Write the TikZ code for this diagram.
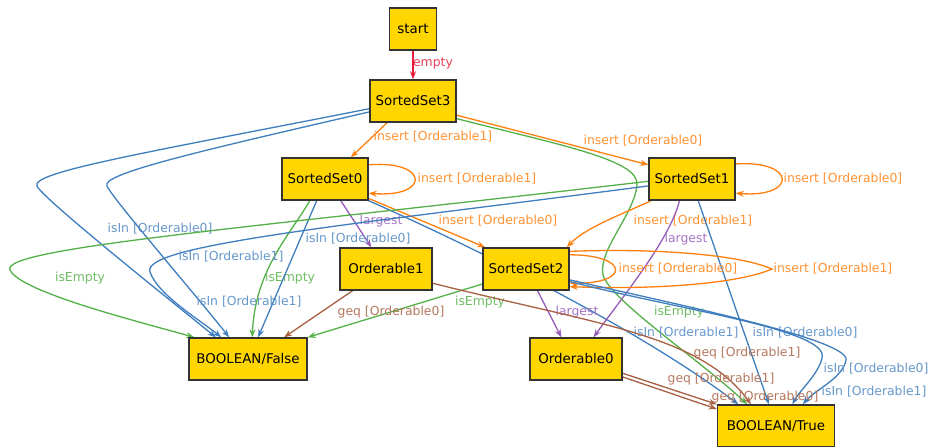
\documentclass[tikz,border=0pt]{standalone}
\usepackage{fontspec}
\setmainfont{DejaVu Sans}
\usetikzlibrary{arrows.meta,backgrounds}

\definecolor{statefill}{RGB}{255,214,0}
\definecolor{orangeline}{RGB}{255,127,14}
\definecolor{blueline}{RGB}{62,126,190}
\definecolor{greenline}{RGB}{84,176,72}
\definecolor{purpleline}{RGB}{150,90,185}
\definecolor{brownline}{RGB}{168,96,66}
\definecolor{redline}{RGB}{232,30,60}

\begin{document}
\begin{tikzpicture}[x=1pt, y=-1pt,
  state/.style={draw=black!80, fill=statefill, line width=1.4pt, minimum height=42pt,
    inner sep=0pt, font=\fontsize{13.4}{15}\selectfont},
  trans/.style={line width=1.3pt, -{Stealth[length=8pt, width=6pt]},
    font=\fontsize{12.4}{14}\selectfont},
  emptyedge/.style={trans, draw=redline, text=redline!85!white},
  insertedge/.style={trans, draw=orangeline, text=orangeline!85!white},
  isinedge/.style={trans, draw=blueline, text=blueline!80!white},
  isemptyedge/.style={trans, draw=greenline, text=greenline!85!white},
  largestedge/.style={trans, draw=purpleline, text=purpleline!85!white},
  geqedge/.style={trans, draw=brownline, text=brownline!85!white}]
\useasboundingbox (0,0) rectangle (930,447);

% states
\node[state, minimum width=47pt] (start) at (413,29) {start};
\node[state, minimum width=86pt] (s3) at (413,101) {SortedSet3};
\node[state, minimum width=86pt] (s0) at (325,179) {SortedSet0};
\node[state, minimum width=86pt] (s1) at (692,179) {SortedSet1};
\node[state, minimum width=92pt] (o1) at (386,269) {Orderable1};
\node[state, minimum width=86pt] (s2) at (526,269) {SortedSet2};
\node[state, minimum width=118pt] (f) at (248,359) {BOOLEAN/False};
\node[state, minimum width=92pt] (o0) at (576,359) {Orderable0};
\node[state, minimum width=117pt] (t) at (776,426) {BOOLEAN/True};

\begin{scope}[on background layer]
\draw[emptyedge] (start) -- (s3) node at (433,63) {empty};

% SortedSet3
\draw[insertedge] (s3.-140) -- (s0.40) node at (433,137) {insert [Orderable1]};
\draw[insertedge] (s3.-18) -- (s1.162) node at (643,141) {insert [Orderable0]};
\draw[isemptyedge] (s3.-22) .. controls (560,145) and (640,160) .. (637,185)
  .. controls (634,215) and (598,250) .. (603,275)
  .. controls (610,300) and (700,360) .. (t.143) node at (679,312) {isEmpty};
\draw[isinedge] (s3.-170) .. controls (150,152) and (30,172) .. (37,186)
  .. controls (42,198) and (170,300) .. (f.146) node at (160,229) {isIn [Orderable0]};
\draw[isinedge] (s3.-166) .. controls (200,151) and (100,174) .. (107,186)
  .. controls (112,198) and (200,300) .. (f.131) node at (249,302) {isIn [Orderable1]};

% SortedSet0
\draw[insertedge] (s0.18) .. controls (430,160) and (430,198) .. (s0.-18) node at (477,179) {insert [Orderable1]};
\draw[insertedge] (s0.-24) -- (s2.152) node at (498,221) {insert [Orderable0]};
\draw[isinedge] (s0.south east) .. controls (480,250) and (640,330) .. (t.150) node at (686,333) {isIn [Orderable1]};
\draw[largestedge] (s0.-54) -- (o1.124) node at (381,221) {largest};
\draw[isemptyedge] (s0.-125) .. controls (290,235) and (255,270) .. (f.79) node at (290,278) {isEmpty};
\draw[isinedge] (s0.-111) -- (f.65) node at (358,239) {isIn [Orderable0]};

% SortedSet1
\draw[insertedge] (s1.19) .. controls (797,160) and (797,198) .. (s1.-18) node at (843,179) {insert [Orderable0]};
\draw[isemptyedge] (s1.-177) .. controls (250,228) and (0,248) .. (10,270)
  .. controls (20,292) and (140,322) .. (f.158) node at (80,278) {isEmpty};
\draw[isinedge] (s1.-171) .. controls (350,225) and (140,245) .. (150,272)
  .. controls (158,295) and (200,320) .. (f.141) node at (231,257) {isIn [Orderable1]};
\draw[insertedge] (s1.-152) .. controls (620,215) and (585,228) .. (s2.28) node at (693,221) {insert [Orderable1]};
\draw[largestedge] (s1.-120) .. controls (670,240) and (620,300) .. (o0.51) node at (686,239) {largest};
\draw[isinedge] (s1.-74) -- (t.108) node at (805,333) {isIn [Orderable0]};

% SortedSet2
\draw[insertedge] (s2.18) .. controls (630,255) and (630,284) .. (s2.-18) node at (678,269) {insert [Orderable0]};
\draw[insertedge] (s2.22) .. controls (660,248) and (740,255) .. (772,269)
  .. controls (740,283) and (660,290) .. (s2.-22) node at (833,269) {insert [Orderable1]};
\draw[isinedge] (s2.-14) .. controls (680,305) and (850,340) .. (846,360)
  .. controls (843,378) and (815,390) .. (t.39) node at (876,369) {isIn [Orderable0]};
\draw[isinedge] (s2.-16) .. controls (680,310) and (830,330) .. (822,358)
  .. controls (818,375) and (800,390) .. (t.53) node at (874,392) {isIn [Orderable1]};
\draw[largestedge] (s2.-62) -- (o0.124) node at (577,312) {largest};
\draw[isemptyedge] (s2.-161) -- (f.north east) node at (480,302) {isEmpty};

% Orderable1 and Orderable0
\draw[geqedge] (o1.-147) -- (f.31) node at (391,312) {geq [Orderable0]};
\draw[geqedge] (o1.-17) .. controls (600,325) and (700,335) .. (t.139) node at (747,353) {geq [Orderable1]};
\draw[geqedge] (o0.-17) -- (t.north west) node at (721,379) {geq [Orderable1]};
\draw[geqedge] (o0.-21) -- (t.164) node at (765,397) {geq [Orderable0]};
\end{scope}
\end{tikzpicture}
\end{document}
